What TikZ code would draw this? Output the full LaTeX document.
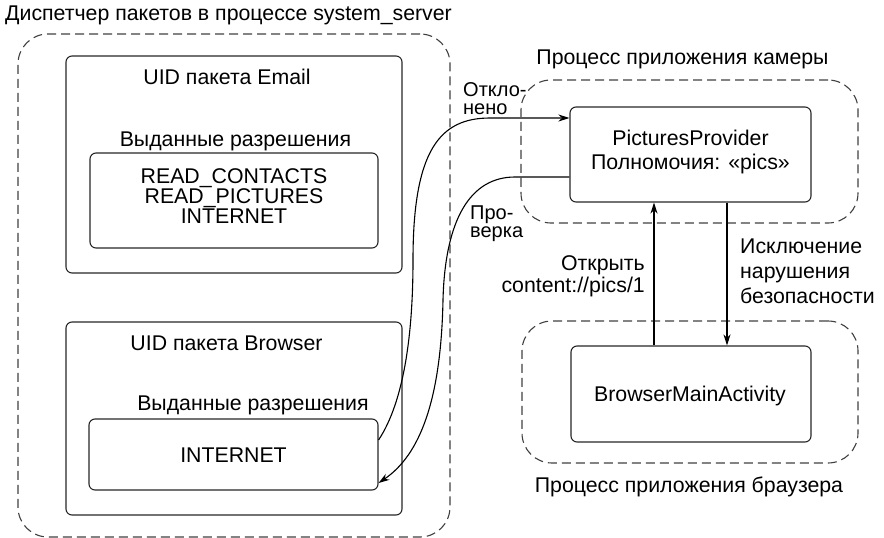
\documentclass[tikz,border=0pt]{standalone}
\usepackage{fontspec}
\setmainfont{Liberation Sans}
\usetikzlibrary{arrows.meta}

\tikzset{
  box/.style={draw=black!85, line width=1.1pt, rounded corners=6pt},
  procbox/.style={draw=black!75, line width=1.1pt, dash pattern=on 9pt off 5pt, rounded corners=30pt},
  lbl/.style={inner sep=0pt, font=\fontsize{21.3}{20}\selectfont},
  conn/.style={line width=1.1pt, -{Stealth[length=11pt,width=7pt]}},
}

\begin{document}
\begin{tikzpicture}[x=1pt, y=-1pt]
  \useasboundingbox (0,0) rectangle (884,538);

  % Диспетчер пакетов
  \node[lbl, anchor=base west] (mgrtitle) at (5,20) {Диспетчер пакетов в процессе system\_server};
  \node[procbox, minimum width=432pt, minimum height=503pt] (mgr) at (234,285.5) {};

  % UID пакета Email
  \node[box, minimum width=336pt, minimum height=217pt] (email) at (234,164.5) {};
  \node[lbl, anchor=base] (emailuid) at (227,84) {UID пакета Email};
  \node[lbl, anchor=base] (emailgr) at (235.5,146.7) {Выданные разрешения};
  \node[box, minimum width=288pt, minimum height=95pt] (emailperm) at (234,200.5) {};
  \node[lbl, align=center, anchor=base] (emailperms) at (234,223)
    {READ\_CONTACTS\\READ\_PICTURES\\INTERNET};

  % UID пакета Browser
  \node[box, minimum width=336pt, minimum height=193pt] (browser) at (234,418.5) {};
  \node[lbl, anchor=base] (browseruid) at (226.5,350) {UID пакета Browser};
  \node[lbl, anchor=base] (browsergr) at (253,410) {Выданные разрешения};
  \node[box, minimum width=289pt, minimum height=71pt] (inet) at (233.5,454.5) {};
  \node[lbl, anchor=base] (inettxt) at (233.5,462) {INTERNET};

  % Процесс камеры
  \node[lbl, anchor=base] (camtitle) at (682.5,64) {Процесс приложения камеры};
  \node[procbox, minimum width=337pt, minimum height=143pt] (cam) at (689.5,151.5) {};
  \node[box, minimum width=241pt, minimum height=95pt] (pp) at (690.5,154.5) {};
  \node[lbl, align=center, anchor=base, font=\fontsize{21.3}{24}\selectfont] (pptxt) at (690.5,169)
    {PicturesProvider\\Полномочия: «pics»};

  % Процесс браузера
  \node[procbox, minimum width=336pt, minimum height=142pt] (brproc) at (690,392) {};
  \node[box, minimum width=240pt, minimum height=96pt] (bma) at (691,394) {};
  \node[lbl, anchor=base] (bmatxt) at (690,401.7) {BrowserMainActivity};
  \node[lbl, anchor=base] (brtitle) at (689,492.7) {Процесс приложения браузера};

  % Запрос и исключение
  \draw[conn] ([xshift=-37pt]bma.north) -- ([xshift=-36.5pt]pp.south);
  \draw[conn] ([xshift=36.5pt]pp.south) -- ([xshift=36pt]bma.north);
  \node[lbl, align=right, anchor=base east, font=\fontsize{21.3}{22}\selectfont] (openlbl) at (645,292)
    {Открыть\\content://pics/1};
  \node[lbl, align=left, anchor=base west, font=\fontsize{21.3}{25}\selectfont] (exclbl) at (740,303)
    {Исключение\\нарушения\\безопасности};

  % Проверка разрешения
  \draw[conn] ([yshift=14.5pt]inet.east) .. controls (405,400) and (413,330) .. (413,260)
    .. controls (413,150) and (440,118) .. (490,118) -- ([yshift=36.5pt]pp.west);
  \draw[conn] ([yshift=-22.5pt]pp.west) -- (515,177) .. controls (470,177) and (445,220) .. (443,300)
    .. controls (441,400) and (420,455) .. ([yshift=-28.5pt]inet.east);
  \node[lbl, align=left, anchor=base west, font=\fontsize{20}{18}\selectfont] (denylbl) at (463,114)
    {Откло-\\нено};
  \node[lbl, align=left, anchor=base west, font=\fontsize{20}{18}\selectfont] (checklbl) at (470,237)
    {Про-\\верка};
\end{tikzpicture}
\end{document}
